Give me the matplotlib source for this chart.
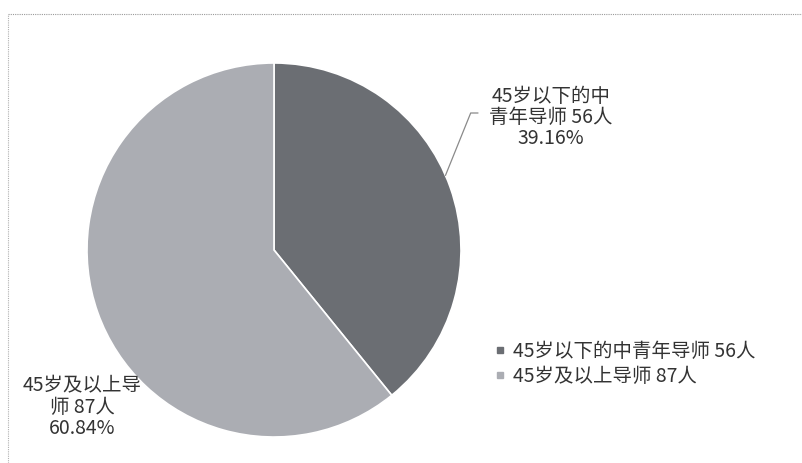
import matplotlib
matplotlib.use('Agg')
import matplotlib.pyplot as plt
from matplotlib.lines import Line2D
import numpy as np

plt.rcParams['font.family'] = ['Noto Sans CJK SC', 'DejaVu Sans']

# data
groups = ['45岁以下的中青年导师', '45岁及以上导师']
counts = [56, 87]
colors = ['#6b6e73', '#abadb3']

W, H = 802, 463
fig = plt.figure(figsize=(W / 100, H / 100), dpi=100)

# pie axes (centre ~ (274, 250) px, radius ~187 px)
cx, cy, r = 274, 250, 187
ax = fig.add_axes([(cx - r) / W, (H - cy - r) / H, 2 * r / W, 2 * r / H])
wedges, _ = ax.pie(counts, colors=colors, startangle=90, counterclock=False,
                   wedgeprops=dict(edgecolor='white', linewidth=1.2))
ax.set_xlim(-1, 1)
ax.set_ylim(-1, 1)
ax.set_aspect('equal')
ax.axis('off')

total = sum(counts)
pcts = [c / total * 100 for c in counts]
labels = ['45岁以下的中\n青年导师 %d人\n%.2f%%' % (counts[0], pcts[0]),
          '45岁及以上导\n师 %d人\n%.2f%%' % (counts[1], pcts[1])]

# leader line for first wedge
w = wedges[0]
mid = np.deg2rad((w.theta1 + w.theta2) / 2 + 4)
ax.annotate('', xy=(np.cos(mid), np.sin(mid)), xycoords='data',
            xytext=(478 / W, 1 - 113 / H), textcoords='figure fraction',
            arrowprops=dict(arrowstyle='-', color='#8a8a8a', lw=0.9,
                            shrinkA=0, shrinkB=0,
                            connectionstyle='angle,angleA=0,angleB=68,rad=0'))
fig.text(551 / W, 1 - 117 / H, labels[0], ha='center', va='center', fontsize=14,
         color='#333333', linespacing=1.0)

# label for second wedge (no leader line)
fig.text(82 / W, 1 - 407 / H, labels[1], ha='center', va='center', fontsize=14,
         color='#333333', linespacing=1.0)

# legend
handles = [Line2D([], [], marker='s', linestyle='none', markersize=5,
                  markerfacecolor=c, markeredgecolor=c) for c in colors]
leg_labels = ['%s %d人' % (g, n) for g, n in zip(groups, counts)]
fig.legend(handles, leg_labels, loc='center left',
           bbox_to_anchor=(478 / W, 1 - 364 / H), frameon=False, fontsize=14,
           handlelength=0.5, handletextpad=0.4, labelspacing=0.2,
           labelcolor='#333333')

# dotted outer border (top and left)
fig.add_artist(Line2D([8 / W, 1], [1 - 14 / H, 1 - 14 / H], transform=fig.transFigure,
                      color='#9a9a9a', lw=0.8, linestyle=(0, (1, 1))))
fig.add_artist(Line2D([8 / W, 8 / W], [0, 1 - 14 / H], transform=fig.transFigure,
                      color='#b0b0b0', lw=0.8, linestyle=(0, (1, 1))))

fig.savefig('out.png', dpi=100)
